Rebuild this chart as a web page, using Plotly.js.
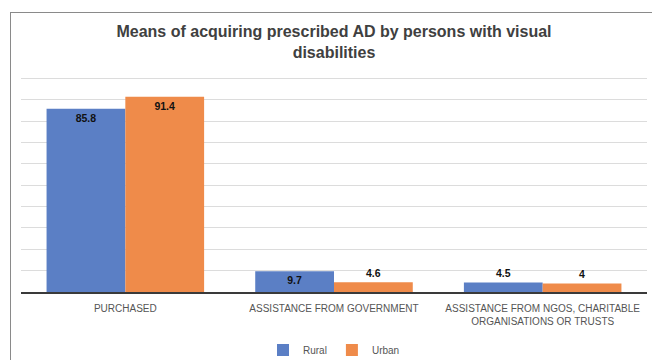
<!DOCTYPE html>
<html>
<head>
<meta charset="utf-8">
<script src="https://cdn.plot.ly/plotly-3.0.1.min.js"></script>
<style>
  html, body { margin: 0; padding: 0; background: #fff; }
  #wrap { position: relative; width: 652px; height: 360px; overflow: hidden; }
  #chart { position: absolute; left: 0; top: 0; width: 652px; height: 360px; }
  #frame { position: absolute; left: 10px; top: 12px; width: 660px; height: 400px;
           border-left: 1.5px solid #8a8a8a; border-top: 1.5px solid #8a8a8a; pointer-events: none; }
</style>
</head>
<body>
<div id="wrap">
  <div id="chart"></div>
  <div id="frame"></div>
</div>
<script>
const categories = [
  "PURCHASED",
  "ASSISTANCE FROM GOVERNMENT",
  "ASSISTANCE FROM NGOS, CHARITABLE<br>ORGANISATIONS OR TRUSTS"
];
const seriesNames = ["Rural", "Urban"];
const ruralValues = [85.8, 9.7, 4.5];
const urbanValues = [91.4, 4.6, 4];
const ruralLabels = ["85.8", "9.7", "4.5"];
const urbanLabels = ["91.4", "4.6", "4"];
const titleText = "Means of acquiring prescribed AD by persons with visual<br>disabilities";

const colors = ["#5b7fc5", "#ef8b4a"];

function positions(vals) {
  return vals.map(v => v >= 9 ? "inside" : "outside");
}

const labelFont = { family: "Liberation Sans, Arial, sans-serif", size: 10.5, color: "#111", weight: "bold" };

const traces = [
  {
    type: "bar", name: seriesNames[0], x: categories, y: ruralValues,
    text: ruralLabels, textposition: positions(ruralValues),
    insidetextanchor: "end", textangle: 0, constraintext: "none",
    textfont: labelFont, outsidetextfont: labelFont, insidetextfont: labelFont,
    marker: { color: colors[0] }, cliponaxis: false, hoverinfo: "none"
  },
  {
    type: "bar", name: seriesNames[1], x: categories, y: urbanValues,
    text: urbanLabels, textposition: positions(urbanValues),
    insidetextanchor: "end", textangle: 0, constraintext: "none",
    textfont: labelFont, outsidetextfont: labelFont, insidetextfont: labelFont,
    marker: { color: colors[1] }, cliponaxis: false, hoverinfo: "none"
  }
];

const layout = {
  width: 652, height: 360,
  margin: { l: 21, r: 5, t: 77, b: 68, autoexpand: false },
  paper_bgcolor: "#ffffff", plot_bgcolor: "#ffffff",
  barmode: "group", bargap: 0.245, bargroupgap: 0,
  font: { family: "Liberation Sans, Arial, sans-serif", color: "#595959" },
  title: {
    text: titleText,
    font: { family: "Liberation Sans, Arial, sans-serif", size: 16, color: "#404040", weight: "bold" },
    x: 0.5, xref: "paper", xanchor: "center",
    y: 1 - 37 / 360, yref: "container", yanchor: "middle"
  },
  xaxis: {
    type: "category", automargin: false,
    showgrid: false, showline: true, linecolor: "#3a3a3a", linewidth: 1.5,
    ticks: "", tickfont: { size: 10, color: "#555555" },
    ticklabelstandoff: 6
  },
  yaxis: {
    range: [0, 100.6], tick0: 0, dtick: 10, showgrid: true, gridcolor: "#dcdcdc", gridwidth: 1,
    showticklabels: false, zeroline: false, showline: false, ticks: "", automargin: false
  },
  showlegend: true,
  legend: {
    orientation: "h", x: 0.5, xanchor: "center", xref: "paper",
    y: -0.27, yanchor: "middle",
    font: { size: 10, color: "#555555" }, itemwidth: 30, traceorder: "normal"
  }
};

Plotly.newPlot("chart", traces, layout, { staticPlot: true, displayModeBar: false });
</script>
</body>
</html>
